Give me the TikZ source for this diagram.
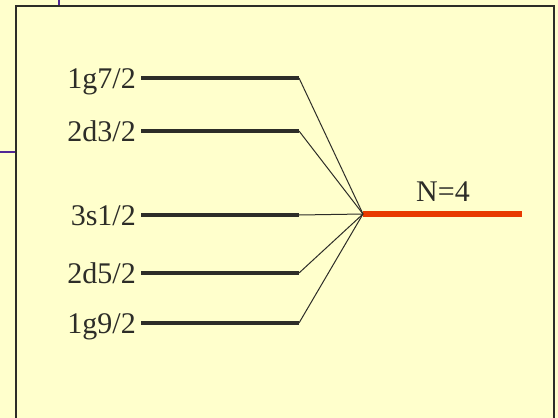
\documentclass[tikz,border=0pt]{standalone}
\usepackage{fontspec}
\setmainfont{Liberation Serif}
\usetikzlibrary{positioning}
\definecolor{slidebg}{RGB}{255,255,204}
\definecolor{framegray}{RGB}{45,45,40}
\definecolor{rulepurple}{RGB}{80,40,150}
\definecolor{levelred}{RGB}{232,58,0}
\tikzset{levellabel/.style={font=\fontsize{30}{36}\selectfont,text height=21pt,text depth=0pt,inner sep=0pt,text=framegray},
level/.style={line width=4pt,color=framegray},
coupling/.style={line width=1pt,color=framegray}
}

\begin{document}
\begin{tikzpicture}[x=1pt,y=-1pt]

  % Background and frame
    \fill[slidebg] (0,0) rectangle (558,418);
    \useasboundingbox (0,0) rectangle (558,418);
    \draw[rulepurple,line width=1.2pt] (59,0) -- (59,5);
    \draw[rulepurple,line width=1.2pt] (0,152) -- (15,152);
    \draw[framegray,line width=2pt] (15.5,418) -- (15.5,5.5) -- (553.5,5.5) -- (553.5,418);

    % Shell-model orbits
    \coordinate (s1) at (141,78);  \coordinate (e1) at (299,78);
    \coordinate (s2) at (141,131); \coordinate (e2) at (299,131);
    \coordinate (s3) at (141,215); \coordinate (e3) at (299,215);
    \coordinate (s4) at (141,273); \coordinate (e4) at (299,273);
    \coordinate (s5) at (141,323); \coordinate (e5) at (299,323);
    \draw[level] (s1) -- (e1);
    \draw[level] (s2) -- (e2);
    \draw[level] (s3) -- (e3);
    \draw[level] (s4) -- (e4);
    \draw[level] (s5) -- (e5);
    \node[levellabel, left = 5pt of s1] (l1) {1g7/2};
    \node[levellabel, left = 5pt of s2] (l2) {2d3/2};
    \node[levellabel, left = 5pt of s3] (l3) {3s1/2};
    \node[levellabel, left = 5pt of s4] (l4) {2d5/2};
    \node[levellabel, left = 5pt of s5] (l5) {1g9/2};

    % Mixed level
    \coordinate (c) at (363,214);
    \coordinate (n4) at (522,214);
    \coordinate (n4mid) at (443,214);
    \draw[line width=6pt,levelred] (c) -- (n4);
    \node[levellabel, above = 12pt of n4mid] (nlab) {N=4};

    % Orbits to mixed level
    \draw[coupling] (e1) -- (c);
    \draw[coupling] (e2) -- (c);
    \draw[coupling] (e3) -- (c);
    \draw[coupling] (e4) -- (c);
    \draw[coupling] (e5) -- (c);

\end{tikzpicture}
\end{document}
